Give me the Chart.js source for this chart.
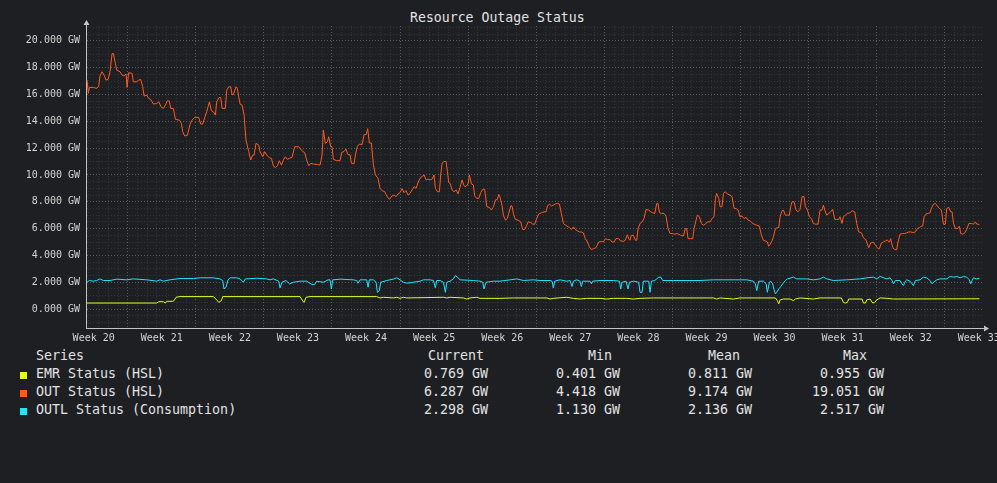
<!DOCTYPE html>
<html>
<head>
<meta charset="utf-8">
<title>Resource Outage Status</title>
<script src="https://cdn.jsdelivr.net/npm/chart.js@4.4.1/dist/chart.umd.min.js"></script>
<style>
  html, body { margin: 0; padding: 0; background: #1e1f22; overflow: hidden; }
  body { width: 997px; height: 483px; position: relative; font-family: 'DejaVu Sans Mono', monospace; color: #e2e2e2; }
  #wrap { position: absolute; left: 0; top: 0; width: 1010px; height: 348px; }
  #title { position: absolute; left: 410px; top: 10px; font-size: 13.2px; line-height: 16px; white-space: pre; color: #e2e2e2; }
  .lg { position: absolute; font-size: 13.3px; line-height: 16px; white-space: pre; }
  .num { width: 110px; text-align: right; }
  .sw { position: absolute; width: 7px; height: 7px; }
</style>
</head>
<body>
<div id="title">Resource Outage Status</div>
<div id="wrap"><canvas id="outageChart"></canvas></div>
<div id="legend"></div>
<script>
/*global Chart, document*/
'use strict';

// series + legend stats
var seriesNames = ['EMR Status (HSL)', 'OUT Status (HSL)', 'OUTL Status (Consumption)'];
var seriesColors = ['#e1ff1e', '#ff5a1e', '#1ee6ff'];
var statCurrent = [0.769, 6.287, 2.298];
var statMin = [0.401, 4.418, 1.130];
var statMean = [0.811, 9.174, 2.136];
var statMax = [0.955, 19.051, 2.517];

var firstWeek = 20;
var dayMin = 2.71;
var dayMax = 94.93;
var gwMin = -1.41;
var gwMax = 21.1;

// x = days since start of week 20, y = GW
var outDays = [2.82, 2.95, 3.06, 3.47, 3.81, 4.02, 4.15, 4.36, 4.57, 4.77, 4.98, 5.18, 5.39, 5.53, 5.73, 5.87, 6.21, 6.42, 6.62, 6.83, 6.93, 7.10, 7.44, 7.58, 7.92, 8.13, 8.33, 8.54, 8.68, 8.95, 9.16, 9.36, 9.64, 9.98, 10.19, 10.46, 10.67, 10.87, 11.08, 11.28, 11.42, 11.69, 11.90, 12.31, 12.52, 12.65, 12.86, 13.13, 13.41, 13.61, 13.89, 14.30, 14.50, 14.71, 14.92, 15.12, 15.40, 15.60, 15.81, 16.01, 16.15, 16.36, 16.56, 16.70, 17.04, 17.18, 17.38, 17.59, 17.72, 17.86, 18.14, 18.27, 18.41, 18.55, 18.75, 18.96, 19.16, 19.44, 19.64, 19.85, 19.99, 20.19, 20.47, 20.60, 20.88, 21.08, 21.29, 21.56, 21.77, 21.98, 22.18, 22.39, 22.59, 22.80, 23.00, 23.21, 23.41, 23.62, 23.89, 24.17, 24.58, 24.85, 25.20, 25.40, 25.61, 25.81, 26.09, 26.50, 26.77, 26.98, 27.11, 27.32, 27.53, 27.66, 27.87, 28.01, 28.14, 28.49, 28.83,
  29.00, 29.24, 29.44, 29.65, 29.86, 29.99, 30.27, 30.41, 30.61, 30.82, 31.09, 31.30, 31.50, 31.67, 31.84, 32.05, 32.26, 32.46, 32.73, 32.94, 33.15, 33.42, 33.63, 33.90, 34.17, 34.38, 34.59, 34.79, 35.00, 35.20, 35.41, 35.61, 35.82, 36.03, 36.23, 36.44, 36.64, 36.85, 37.05, 37.26, 37.47, 37.67, 37.88, 38.08, 38.29, 38.49, 38.63, 38.84, 39.04, 39.18, 39.32, 39.52, 39.73, 39.87, 40.00, 40.14, 40.35, 40.55, 40.76, 40.96, 41.17, 41.37, 41.58, 41.78, 41.99, 42.13, 42.33, 42.54, 42.67, 42.88, 43.09, 43.29, 43.50, 43.70, 43.91, 44.19, 44.39, 44.60, 44.80, 45.01, 45.15, 45.28, 45.49, 45.62, 45.83, 46.03, 46.17, 46.38, 46.51, 46.65, 46.85, 47.13, 47.40, 47.61, 47.81, 48.02, 48.16, 48.43, 48.64, 48.84, 49.05, 49.25, 49.53, 49.80, 50.01, 50.15, 50.35, 50.56, 50.76, 50.97, 51.18, 51.38, 51.58, 51.79, 52.00, 52.41,
  52.61, 52.82, 53.02, 53.23, 53.43, 53.64, 53.84, 54.05, 54.26, 54.46, 54.67, 54.87, 55.15, 55.42, 55.70, 55.90, 56.11, 56.31, 56.59, 56.79, 57.00, 57.20, 57.48, 57.68, 57.96, 58.16, 58.37, 58.51, 58.64, 58.78, 58.99, 59.19, 59.33, 59.47, 59.67, 59.88, 60.08, 60.29, 60.56, 60.77, 60.97, 61.18, 61.39, 61.52, 61.66, 61.86, 62.14, 62.34, 62.55, 62.76, 62.96, 63.24, 63.44, 63.65, 63.85, 64.13, 64.33, 64.47, 64.61, 64.88, 65.09, 65.22, 65.43, 65.57, 65.77, 65.98, 66.18, 66.39, 66.59, 66.87, 67.07, 67.28, 67.42, 67.55, 67.76, 67.90, 68.10, 68.24, 68.44, 68.65, 68.92, 69.13, 69.34, 69.54, 69.75, 69.95, 70.16, 70.36, 70.57, 70.78, 70.98, 71.19, 71.39, 71.67, 71.94, 72.15, 72.35, 72.56, 72.76, 72.90, 73.04, 73.24, 73.38, 73.59, 73.79, 73.93, 74.07,
  74.27, 74.41, 74.61, 74.82, 75.02, 75.16, 75.30, 75.50, 75.71, 75.91, 76.12, 76.33, 76.53, 76.67, 76.88, 77.08, 77.29, 77.49, 77.70, 77.97, 78.18, 78.38, 78.52, 78.66, 78.86, 79.07, 79.27, 79.48, 79.69, 79.89, 80.10, 80.23, 80.44, 80.58, 80.78, 80.99, 81.26, 81.47, 81.74, 81.95, 82.15, 82.43, 82.63, 82.91, 83.18, 83.39, 83.66, 83.87, 84.14, 84.28, 84.48, 84.69, 84.89, 85.10, 85.30, 85.44, 85.65, 85.85, 86.06, 86.20, 86.40, 86.68, 86.88, 87.09, 87.29, 87.50, 87.77, 87.98, 88.18, 88.39, 88.59, 88.73, 88.87, 89.07, 89.28, 89.49, 89.62, 89.83, 90.03, 90.24, 90.45, 90.65, 90.86, 91.06, 91.20, 91.41, 91.61, 91.75, 91.89, 92.09, 92.30, 92.50, 92.64, 92.85, 93.05, 93.26, 93.47, 93.74, 93.95, 94.15, 94.29, 94.43, 94.56];
var outValues = [17.07, 16.08, 16.52, 16.52, 16.45, 16.62, 17.37, 17.69, 17.44, 17.07, 17.12, 17.69, 19.05, 19.05, 18.31, 17.81, 17.69, 17.44, 17.37, 17.52, 16.52, 17.62, 17.57, 16.94, 16.94, 17.07, 17.12, 16.57, 15.88, 15.95, 15.70, 15.63, 15.28, 15.33, 15.45, 15.03, 14.96, 15.21, 15.53, 15.50, 14.96, 14.96, 14.14, 14.09, 13.84, 13.22, 12.90, 12.95, 13.77, 14.09, 14.29, 14.29, 13.79, 13.79, 14.29, 14.71, 15.45, 14.78, 14.71, 14.46, 15.45, 15.75, 15.78, 14.96, 14.96, 16.32, 16.57, 16.57, 16.00, 16.00, 16.57, 16.45, 15.83, 15.28, 15.21, 14.46, 12.60, 11.73, 11.11, 11.48, 11.48, 12.35, 12.22, 11.73, 11.36, 11.73, 11.48, 11.28, 11.23, 10.66, 10.56, 10.68, 11.06, 10.73, 11.11, 11.36, 11.16, 11.23, 11.31, 12.10, 12.10, 11.85, 11.65, 11.11, 10.68, 10.86, 10.81, 10.78, 10.73, 11.48, 13.34, 12.35, 12.47, 12.85, 12.10, 12.10, 11.16, 11.06, 11.06,
  11.68, 11.75, 11.93, 11.50, 11.50, 10.88, 10.83, 11.50, 12.13, 12.30, 12.25, 13.00, 13.00, 13.45, 12.38, 12.38, 10.75, 10.00, 9.75, 9.00, 8.83, 8.75, 8.43, 8.18, 8.43, 8.50, 8.38, 8.58, 8.68, 8.98, 8.68, 8.83, 8.50, 8.63, 8.88, 9.13, 9.00, 9.43, 9.75, 9.88, 10.00, 9.63, 9.68, 9.63, 9.68, 10.00, 9.00, 8.75, 8.75, 10.00, 10.88, 11.00, 11.00, 10.25, 9.43, 9.38, 8.88, 8.75, 8.88, 8.58, 9.08, 9.63, 9.18, 9.13, 9.33, 10.00, 9.33, 9.25, 8.43, 8.25, 8.25, 8.68, 8.93, 8.93, 7.63, 7.58, 7.38, 7.63, 8.13, 8.18, 8.55, 8.33, 7.68, 7.00, 6.63, 6.75, 7.13, 7.70, 7.68, 7.13, 6.68, 6.63, 6.50, 5.93, 5.93, 6.25, 6.50, 6.45, 6.33, 6.33, 6.75, 7.08, 7.18, 7.25, 7.25, 7.68, 7.83, 7.68, 7.75, 7.83, 7.88, 7.83, 7.13, 6.38, 6.25, 6.08,
  5.93, 6.13, 5.93, 5.83, 5.75, 5.75, 5.68, 5.25, 5.00, 4.63, 4.43, 4.50, 4.58, 5.00, 5.05, 5.00, 5.25, 5.18, 5.18, 5.00, 5.00, 5.25, 5.25, 5.08, 5.05, 5.13, 5.55, 5.25, 5.13, 5.50, 5.50, 5.13, 5.13, 6.00, 6.38, 6.50, 6.75, 7.43, 7.38, 7.25, 7.18, 7.13, 7.88, 7.88, 7.18, 7.13, 7.13, 6.93, 6.00, 5.63, 5.63, 5.58, 5.63, 5.58, 5.50, 5.45, 6.00, 6.00, 5.25, 5.25, 5.25, 6.00, 6.63, 7.00, 6.88, 6.38, 6.25, 6.33, 6.50, 6.50, 6.75, 6.88, 8.25, 8.63, 8.25, 7.63, 7.63, 8.63, 8.75, 8.58, 8.50, 8.38, 7.50, 7.50, 7.38, 6.88, 6.93, 6.75, 6.83, 6.63, 6.58, 6.43, 6.33, 6.25, 6.18, 5.50, 5.13, 5.08, 5.00, 4.68, 4.83, 5.08, 5.38, 6.00, 6.08, 6.08, 6.88,
  7.33, 7.38, 7.00, 7.00, 7.00, 7.63, 8.00, 8.00, 7.38, 7.25, 7.43, 8.38, 8.38, 7.63, 7.38, 6.88, 6.75, 6.38, 6.33, 6.33, 7.38, 7.38, 7.75, 7.38, 7.00, 7.13, 7.25, 7.43, 6.68, 6.68, 6.68, 6.88, 6.38, 6.88, 7.00, 7.13, 7.18, 7.33, 7.25, 6.38, 5.75, 5.68, 5.33, 5.13, 4.58, 4.93, 5.00, 4.75, 4.50, 4.50, 4.93, 5.00, 5.08, 5.13, 5.00, 5.25, 4.58, 4.43, 4.43, 5.00, 5.58, 5.63, 5.63, 5.68, 5.75, 5.75, 5.70, 5.75, 6.00, 6.08, 6.18, 6.18, 6.88, 7.08, 7.13, 7.18, 7.50, 7.80, 7.88, 7.68, 7.50, 7.38, 6.33, 6.33, 7.50, 7.58, 7.25, 7.25, 6.43, 6.00, 6.00, 6.18, 5.63, 5.58, 5.68, 5.93, 6.38, 6.38, 6.33, 6.50, 6.33, 6.33, 6.29];

var outlDays = [2.82, 3.06, 3.47, 3.81, 4.15, 4.50, 5.18, 5.87, 6.90, 7.58, 8.95, 9.98, 10.32, 10.67, 11.35, 12.38, 13.75, 14.44, 15.81, 16.49, 16.76, 16.90, 17.11, 17.31, 17.52, 18.20, 18.55, 18.89, 19.10, 20.26, 21.29, 21.63, 21.98, 22.52, 22.66, 22.86, 23.27, 23.62, 24.04, 24.72, 25.40, 25.95, 26.22, 26.43, 27.11, 27.60, 27.80, 27.94, 28.07, 28.83, 30.20, 30.54, 30.68, 30.89, 31.57, 31.71, 31.84, 32.26, 32.53, 32.67, 32.87, 33.01, 33.63, 34.31, 34.65, 35.00, 35.34, 35.68, 36.37, 37.05, 37.40, 38.08, 38.43, 38.63, 38.77, 39.11, 39.46, 39.66, 39.80, 40.14, 40.48, 40.69, 40.89, 41.17, 42.54, 43.22, 43.50, 43.63, 43.84, 44.59, 45.27,
  46.31, 46.99, 47.68, 48.70, 49.39, 50.42, 50.62, 50.76, 50.89, 51.45, 52.13, 52.48, 52.68, 52.82, 53.16, 53.50, 53.64, 53.78, 54.53, 54.67, 54.80, 55.56, 56.93, 57.55, 57.68, 57.82, 58.23, 58.44, 58.58, 58.99, 59.53, 59.67, 59.88, 60.01, 60.56, 60.70, 60.84, 61.18, 61.39, 61.59, 61.80, 62.00, 63.10, 65.84, 67.21, 70.64, 71.32, 71.53, 71.67, 71.87, 72.35, 72.63, 72.76, 72.97, 73.11, 73.31, 73.45, 73.59, 73.72, 73.93, 74.14, 74.34, 74.61, 74.82, 75.44, 75.78, 76.81, 77.50, 78.18, 78.52, 78.87, 79.55, 80.92, 82.29, 82.98, 83.66, 84.00, 84.35, 85.03, 85.37, 85.58, 85.72, 85.92, 86.40, 86.61, 86.75, 86.95, 87.09, 87.43, 87.64, 87.77, 87.98, 88.46, 88.80, 89.14, 89.49, 89.69, 89.83, 90.18, 90.52, 91.20, 91.55, 91.89, 92.23, 92.58, 92.92, 93.26, 93.53, 93.67, 93.81, 93.95, 94.29, 94.56];
var outlValues = [2.00, 2.13, 2.08, 2.13, 2.25, 2.13, 2.13, 2.23, 2.18, 2.25, 2.18, 2.08, 2.18, 2.08, 2.18, 2.28, 2.28, 2.33, 2.33, 2.25, 2.13, 1.50, 1.63, 2.18, 2.33, 2.33, 2.25, 2.00, 2.25, 2.30, 2.25, 2.18, 2.25, 2.08, 1.58, 2.00, 2.13, 1.88, 2.00, 2.08, 2.08, 1.83, 1.83, 2.08, 2.00, 2.18, 2.18, 1.50, 2.18, 2.23, 2.18, 2.13, 1.93, 2.18, 2.18, 1.63, 2.18, 2.18, 2.00, 1.25, 1.38, 2.00, 2.13, 2.23, 2.33, 2.18, 2.00, 1.93, 2.00, 2.08, 2.18, 2.18, 2.13, 1.58, 2.13, 2.13, 2.00, 1.25, 2.00, 2.08, 2.25, 2.50, 2.38, 2.18, 2.13, 2.08, 2.00, 1.50, 2.00, 2.08, 2.08,
  2.18, 2.25, 2.13, 2.18, 2.13, 2.13, 2.08, 1.58, 2.08, 2.18, 2.08, 2.13, 1.68, 2.08, 2.18, 2.08, 1.68, 2.08, 2.08, 1.88, 2.08, 2.13, 2.13, 2.08, 1.50, 2.00, 2.08, 1.50, 2.00, 2.08, 2.00, 1.25, 1.25, 2.08, 2.08, 1.25, 2.08, 2.13, 2.25, 2.38, 2.38, 2.13, 2.13, 2.13, 2.18, 2.18, 2.08, 1.88, 1.38, 2.08, 2.08, 1.88, 1.25, 2.00, 2.08, 1.88, 1.43, 1.13, 1.25, 1.50, 1.68, 1.88, 2.13, 2.25, 2.38, 2.25, 2.25, 2.18, 2.25, 2.38, 2.25, 2.13, 2.18, 2.25, 2.33, 2.38, 2.25, 2.43, 2.25, 2.33, 2.13, 1.88, 2.13, 2.13, 1.88, 1.75, 2.08, 2.18, 2.08, 1.88, 1.75, 2.13, 2.18, 2.38, 2.33, 2.13, 1.88, 2.00, 2.18, 2.25, 2.25, 2.43, 2.38, 2.43, 2.33, 2.43, 2.38, 2.18, 1.88, 2.13, 2.33, 2.25, 2.30];

var emrDays = [2.82, 9.98, 10.19, 10.67, 10.87, 11.01, 11.63, 11.76, 11.97, 12.38, 15.81, 16.15, 16.36, 16.63, 16.76, 24.72, 24.92, 25.13, 25.33, 25.74, 32.60, 32.94, 33.29, 34.31, 34.65, 35.00, 35.34, 35.68, 39.46, 39.80, 40.14, 41.51, 41.85, 42.19, 42.88, 43.22, 45.27,
  46.65, 50.08, 50.42, 50.76, 52.13, 52.82, 53.50, 54.19, 55.56, 56.25, 56.93, 58.30, 58.99, 59.67, 61.04, 67.21, 67.55, 67.89, 69.26, 69.95, 73.59, 73.79, 73.93, 74.07, 74.41, 75.10, 75.44, 75.64, 76.12, 77.49, 78.18, 80.37, 80.58, 80.78, 80.99, 81.12, 82.50, 82.63, 82.84, 82.98, 83.32, 83.59, 83.80, 84.00, 84.35, 85.03, 85.72, 94.56];
var emrValues = [0.45, 0.45, 0.55, 0.55, 0.45, 0.58, 0.58, 0.63, 0.88, 0.93, 0.93, 0.68, 0.50, 0.63, 0.93, 0.93, 0.68, 0.50, 0.88, 0.93, 0.93, 0.83, 0.88, 0.83, 0.88, 0.80, 0.88, 0.83, 0.88, 0.83, 0.88, 0.83, 0.75, 0.83, 0.88, 0.80, 0.80,
  0.83, 0.83, 0.75, 0.80, 0.88, 0.80, 0.75, 0.80, 0.80, 0.75, 0.80, 0.80, 0.75, 0.80, 0.83, 0.83, 0.75, 0.83, 0.75, 0.83, 0.83, 0.63, 0.40, 0.68, 0.75, 0.75, 0.63, 0.75, 0.83, 0.75, 0.83, 0.83, 0.50, 0.45, 0.50, 0.75, 0.75, 0.45, 0.45, 0.68, 0.75, 0.45, 0.50, 0.68, 0.83, 0.80, 0.75, 0.77];

var fontFamily = "'DejaVu Sans Mono', monospace";
var axisColor = '#c4c4c4';
var majorGrid = '#58595c';
var minorGrid = '#323336';

function toPoints(days, values) {
    var pts = [];
    for (var i = 0; i < days.length; i++) {
        pts.push({x: days[i], y: values[i]});
    }
    return pts;
}

function stepTicks(from, to, step) {
    var t = [];
    for (var v = from; v <= to + 1e-9; v += step) {
        t.push({value: Math.round(v * 2) / 2});
    }
    return t;
}

// little arrow heads at the end of both axes
var axisArrows = {
    id: 'axisArrows',
    afterDraw: function (chart) {
        var ctx = chart.ctx;
        var a = chart.chartArea;
        var lx = Math.round(a.left) + 0.5;
        var by = Math.round(a.bottom) + 0.5;
        ctx.save();
        ctx.fillStyle = axisColor;
        ctx.strokeStyle = axisColor;
        ctx.lineWidth = 1;
        ctx.beginPath();
        ctx.moveTo(lx, a.top);
        ctx.lineTo(lx, a.top - 2);
        ctx.stroke();
        ctx.beginPath();
        ctx.moveTo(lx - 3, a.top - 1);
        ctx.lineTo(lx + 3, a.top - 1);
        ctx.lineTo(lx, a.top - 6);
        ctx.closePath();
        ctx.fill();
        ctx.beginPath();
        ctx.moveTo(a.right, by);
        ctx.lineTo(a.right + 2, by);
        ctx.stroke();
        ctx.beginPath();
        ctx.moveTo(a.right + 1, by - 3);
        ctx.lineTo(a.right + 1, by + 3);
        ctx.lineTo(a.right + 6, by);
        ctx.closePath();
        ctx.fill();
        ctx.restore();
    }
};

var datasets = [
    {label: seriesNames[2], data: toPoints(outlDays, outlValues), borderColor: seriesColors[2]},
    {label: seriesNames[0], data: toPoints(emrDays, emrValues), borderColor: seriesColors[0]},
    {label: seriesNames[1], data: toPoints(outDays, outValues), borderColor: seriesColors[1]}
].map(function (d) {
    d.borderWidth = 1;
    d.pointRadius = 0;
    d.tension = 0;
    d.fill = false;
    return d;
});

var outageChart = new Chart(document.getElementById('outageChart'), {
    type: 'line',
    data: {datasets: datasets},
    plugins: [axisArrows],
    options: {
        responsive: true,
        maintainAspectRatio: false,
        animation: false,
        events: [],
        layout: {padding: {left: 0, right: 27, top: 26, bottom: 0}},
        plugins: {
            legend: {display: false},
            tooltip: {enabled: false},
            title: {display: false}
        },
        scales: {
            x: {
                type: 'linear',
                min: dayMin,
                max: dayMax,
                afterBuildTicks: function (axis) {
                    axis.ticks = stepTicks(3, 94.5, 0.5);
                },
                afterFit: function (axis) {
                    axis.height = 20;
                },
                grid: {
                    drawTicks: false,
                    color: function (c) {
                        var v = c.tick ? c.tick.value : 0;
                        if (v % 7 === 0) { return majorGrid; }
                        if (v % 1 === 0) { return minorGrid; }
                        return 'rgba(0,0,0,0)';
                    }
                },
                border: {display: true, color: axisColor, width: 1, dash: [1, 2]},
                ticks: {
                    autoSkip: false,
                    maxRotation: 0,
                    minRotation: 0,
                    padding: 4,
                    color: '#d4d4d4',
                    font: {family: fontFamily, size: 10},
                    callback: function (value) {
                        var w = (value - 3.5) / 7;
                        return (w >= 0 && w % 1 === 0) ? 'Week ' + (firstWeek + w) : '';
                    }
                }
            },
            y: {
                type: 'linear',
                min: gwMin,
                max: gwMax,
                afterBuildTicks: function (axis) {
                    axis.ticks = stepTicks(-1, 21, 0.5);
                },
                afterFit: function (axis) {
                    axis.width = 86;
                },
                grid: {
                    drawTicks: false,
                    color: function (c) {
                        var v = c.tick ? c.tick.value : 1;
                        return (v % 2 === 0) ? majorGrid : minorGrid;
                    }
                },
                border: {display: true, color: axisColor, width: 1, dash: [1, 2]},
                ticks: {
                    autoSkip: false,
                    padding: 6,
                    color: '#d4d4d4',
                    font: {family: fontFamily, size: 10},
                    callback: function (value) {
                        return (value % 2 === 0 && value >= 0 && value <= 20) ? value.toFixed(3) + ' GW' : '';
                    }
                }
            }
        }
    }
});

// legend table under the graph
var legendBox = document.getElementById('legend');
function addText(txt, left, topPx, cls) {
    var el = document.createElement('div');
    el.className = 'lg' + (cls ? ' ' + cls : '');
    el.textContent = txt;
    el.style.left = left + 'px';
    el.style.top = topPx + 'px';
    legendBox.appendChild(el);
}
function gw(v) { return v.toFixed(3) + ' GW'; }

addText('Series', 36, 348);
addText('Current', 428, 348);
addText('Min', 588, 348);
addText('Mean', 708, 348);
addText('Max', 843, 348);
for (var i = 0; i < seriesNames.length; i++) {
    var rowTop = 366 + i * 18;
    var sw = document.createElement('div');
    sw.className = 'sw';
    sw.style.left = '20px';
    sw.style.top = (rowTop + 6) + 'px';
    sw.style.background = seriesColors[i];
    legendBox.appendChild(sw);
    addText(seriesNames[i], 36, rowTop);
    addText(gw(statCurrent[i]), 488 - 110, rowTop, 'num');
    addText(gw(statMin[i]), 620 - 110, rowTop, 'num');
    addText(gw(statMean[i]), 752 - 110, rowTop, 'num');
    addText(gw(statMax[i]), 884 - 110, rowTop, 'num');
}
</script>
</body>
</html>
